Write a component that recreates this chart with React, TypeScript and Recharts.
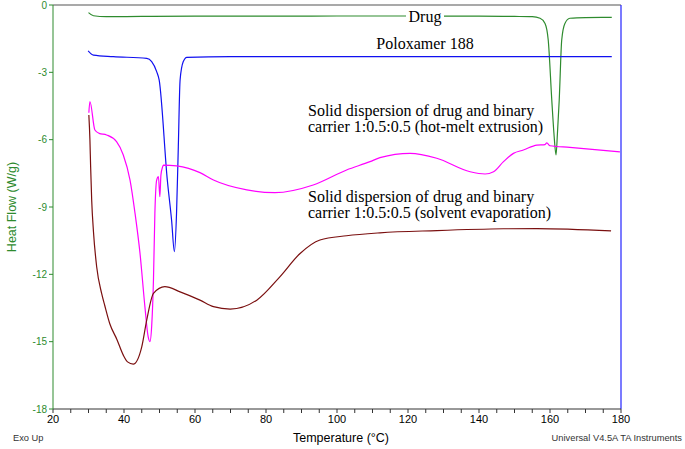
import React from 'react';
import { LineChart, Line, XAxis, YAxis, ReferenceLine } from 'recharts';

// Drug
const drugT = [30.0, 31.4, 35, 45, 60, 80, 100, 120, 140, 150, 155, 157.2, 158.6, 159.5, 160.5, 161.1, 161.7, 162.1, 162.6, 163.3, 164.2, 165.6, 170, 177.4];
const drugHF = [-0.34, -0.48, -0.52, -0.51, -0.5, -0.5, -0.49, -0.49, -0.5, -0.51, -0.52, -0.59, -0.82, -1.56, -4.23, -5.7, -6.68, -5.7, -4.23, -1.56, -0.82, -0.59, -0.56, -0.55];

// Poloxamer 188
const poloT = [29.9, 31.4, 37, 46.4, 47.8, 49.2, 49.9, 52.2, 53.4, 54.2, 54.8, 55.3, 55.8, 56.7, 57.7, 70, 100, 130, 160, 177.4];
const poloHF = [-2.04, -2.23, -2.3, -2.38, -2.52, -2.97, -3.34, -7.8, -9.58, -10.99, -9.28, -6.31, -3.34, -2.52, -2.33, -2.3, -2.3, -2.3, -2.3, -2.3];

// Solid dispersion (hot-melt extrusion)
const hmeT = [30.1, 30.4, 31.8, 33.0, 35.1, 37.9, 39.8, 41.7, 43.1, 44.5, 45.9, 46.8, 47.3, 47.8, 48.3, 48.7, 49.2, 49.7, 50.1, 50.4, 50.9, 51.1, 54.8, 61.4, 65.2, 74.6, 82.5, 93.3, 102.7, 109.3, 112.1, 120.6, 128.1, 137.5, 141.7, 144.1, 146.9, 149.7, 152.5, 156.3, 158.6, 159.1, 160, 165.6, 179.7];
const hmeHF = [-4.8, -4.3, -5.57, -5.72, -5.79, -6.09, -6.68, -7.8, -9.27, -11.05, -13.46, -14.78, -15.0, -14.3, -12.25, -9.27, -7.8, -7.65, -8.54, -7.58, -7.2, -7.13, -7.17, -7.47, -7.8, -8.24, -8.36, -8.02, -7.35, -6.98, -6.8, -6.61, -6.83, -7.43, -7.53, -7.43, -6.98, -6.61, -6.46, -6.24, -6.22, -6.14, -6.27, -6.34, -6.54];

// Solid dispersion (solvent evaporation)
const sevT = [30.1, 30.4, 30.6, 30.9, 31.4, 32.3, 33.7, 34.6, 36.0, 38.0, 39.8, 41.0, 42.6, 45.0, 46.4, 48.3, 51.5, 55.8, 61.4, 65.2, 69.9, 77.4, 83.9, 89.6, 95.2, 102.7, 112.1, 128.1, 146.9, 156.3, 177.2];
const sevHF = [-4.9, -6.0, -7.2, -8.7, -10.1, -11.66, -12.85, -13.4, -14.2, -14.9, -15.6, -15.9, -16.0, -15.23, -14.04, -12.85, -12.55, -12.78, -13.15, -13.44, -13.55, -13.15, -12.11, -11.07, -10.47, -10.28, -10.15, -10.05, -9.97, -9.96, -10.06];

const xTicks = [20, 25, 30, 35, 40, 45, 50, 55, 60, 65, 70, 75, 80, 85, 90, 95, 100, 105, 110, 115, 120, 125, 130, 135, 140, 145, 150, 155, 160, 165, 170, 175, 180];
const yTicks = [-18, -15, -12, -9, -6, -3, 0];

const toData = (t: number[], v: number[]) => t.map((x, i) => ({ t: x, v: v[i] }));
const drugData = toData(drugT, drugHF);
const poloData = toData(poloT, poloHF);
const hmeData = toData(hmeT, hmeHF);
const sevData = toData(sevT, sevHF);

const GREEN = '#2e8b2e';
const serif = '"Liberation Serif", "Times New Roman", serif';
const sans = '"Liberation Sans", Arial, sans-serif';

export default function App() {
  return (
    <div style={{ position: 'absolute', left: 0, top: 0, width: 685, height: 449, background: '#fff', fontFamily: sans }}>
      <LineChart width={685} height={449} margin={{ top: 5, right: 64, left: 0, bottom: 0 }}>
        <XAxis
          type="number"
          dataKey="t"
          domain={[20, 180]}
          ticks={xTicks}
          interval={0}
          tickFormatter={(v: number) => (v % 20 === 0 ? String(v) : '')}
          height={40}
          stroke="#333"
          tickSize={4}
          tick={{ fill: '#000', fontSize: 11, fontFamily: sans }}
          allowDataOverflow
        />
        <YAxis
          type="number"
          domain={[-18, 0]}
          ticks={yTicks}
          interval={0}
          width={53}
          stroke={GREEN}
          tickSize={4}
          tick={{ fill: GREEN, fontSize: 10, fontFamily: sans }}
          allowDataOverflow
        />
        <ReferenceLine y={0} stroke="#555" strokeWidth={1.2} />
        <ReferenceLine x={180} stroke="#2222ff" strokeWidth={1.2} />
        <Line data={drugData} dataKey="v" type="monotone" stroke="#2e8b2e" strokeWidth={1.2} dot={false} isAnimationActive={false} />
        <Line data={poloData} dataKey="v" type="monotone" stroke="#1010f0" strokeWidth={1.2} dot={false} isAnimationActive={false} />
        <Line data={hmeData} dataKey="v" type="monotone" stroke="#ff00ff" strokeWidth={1.2} dot={false} isAnimationActive={false} />
        <Line data={sevData} dataKey="v" type="monotone" stroke="#7a0f0f" strokeWidth={1.2} dot={false} isAnimationActive={false} />
      </LineChart>

      <div style={{ position: 'absolute', left: 406, top: 8.5, width: 38, textAlign: 'center', background: '#fff', fontFamily: serif, fontSize: 16, lineHeight: '16.5px' }}>Drug</div>
      <div style={{ position: 'absolute', left: 360, top: 35.5, width: 130, textAlign: 'center', fontFamily: serif, fontSize: 16, lineHeight: '16.5px' }}>Poloxamer 188</div>
      <div style={{ position: 'absolute', left: 308, top: 102.5, whiteSpace: 'nowrap', fontFamily: serif, fontSize: 16, lineHeight: '16.5px' }}>
        Solid dispersion of drug and binary<br />carrier 1:0.5:0.5 (hot-melt extrusion)
      </div>
      <div style={{ position: 'absolute', left: 308, top: 188.8, whiteSpace: 'nowrap', fontFamily: serif, fontSize: 16, lineHeight: '16.5px' }}>
        Solid dispersion of drug and binary<br />carrier 1:0.5:0.5 (solvent evaporation)
      </div>

      <div style={{ position: 'absolute', left: 2, top: 199, width: 20, height: 16, fontSize: 12.5, color: GREEN, whiteSpace: 'nowrap' }}>
        <div style={{ position: 'absolute', left: '50%', top: '50%', transform: 'translate(-50%, -50%) rotate(-90deg)', lineHeight: '14px' }}>Heat Flow (W/g)</div>
      </div>

      <div style={{ position: 'absolute', left: 13, top: 432, fontSize: 9.3, lineHeight: '12px', color: '#333', whiteSpace: 'nowrap' }}>Exo Up</div>
      <div style={{ position: 'absolute', left: 241, width: 200, top: 431, textAlign: 'center', fontSize: 12.5, lineHeight: '15px', color: '#000', whiteSpace: 'nowrap' }}>Temperature (°C)</div>
      <div style={{ position: 'absolute', right: 3, top: 432, fontSize: 9.3, lineHeight: '12px', color: '#333', whiteSpace: 'nowrap' }}>Universal V4.5A TA Instruments</div>
    </div>
  );
}
